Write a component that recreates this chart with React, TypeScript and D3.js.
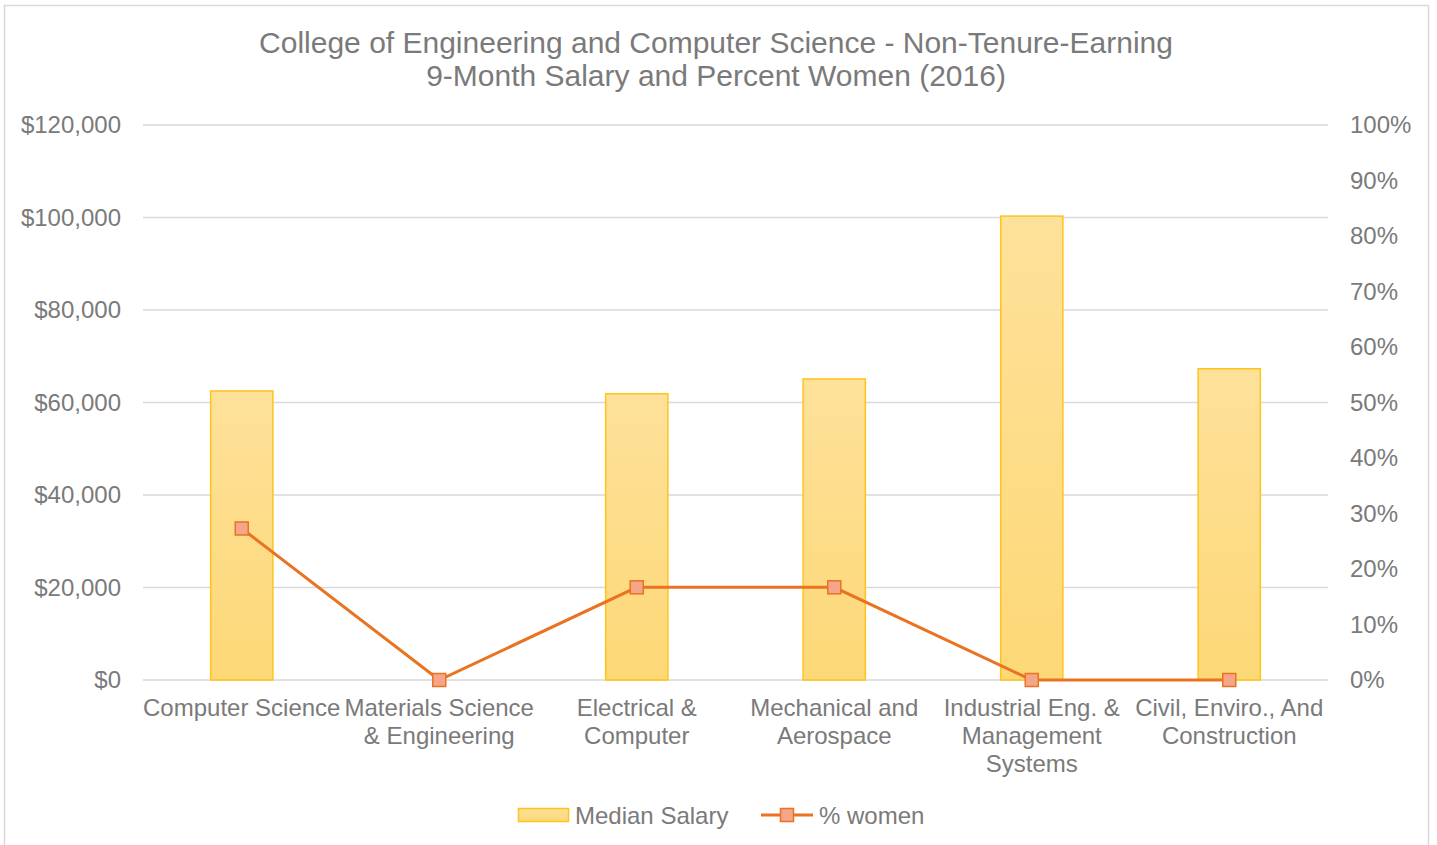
import React, { useRef, useEffect } from 'react';
import * as d3 from 'd3';

const categories = [
  ['Computer Science'],
  ['Materials Science', '& Engineering'],
  ['Electrical &', 'Computer'],
  ['Mechanical and', 'Aerospace'],
  ['Industrial Eng. &', 'Management', 'Systems'],
  ['Civil, Enviro., And', 'Construction'],
];
const medianSalary = [62500, 0, 61900, 65100, 100300, 67300];
const pctWomen = [0.273, 0, 0.167, 0.167, 0, 0];
const salaryTicks = [0, 20000, 40000, 60000, 80000, 100000, 120000];
const pctTicks = [0, 0.1, 0.2, 0.3, 0.4, 0.5, 0.6, 0.7, 0.8, 0.9, 1];
const titleLines = [
  'College of Engineering and Computer Science - Non-Tenure-Earning',
  '9-Month Salary and Percent Women (2016)',
];

const W = 1437;
const H = 845;
const FONT = '"Liberation Sans", Arial, sans-serif';
const TEXT = '#7A7A7A';
const LINE = '#E97320';
const MARKER = '#F4A58A';

const App = () => {
  const svgRef = useRef<SVGSVGElement>(null);

  useEffect(() => {
    const svg = d3.select(svgRef.current);
    svg.selectAll('*').remove();

    const margin = { top: 125, right: 109, bottom: 165, left: 143 };
    const plotW = W - margin.left - margin.right;
    const plotH = H - margin.top - margin.bottom;

    const defs = svg.append('defs');
    const grad = defs.append('linearGradient')
      .attr('id', 'barGrad')
      .attr('x1', 0).attr('y1', 0).attr('x2', 0).attr('y2', 1);
    grad.append('stop').attr('offset', '0%').attr('stop-color', '#FEE19A');
    grad.append('stop').attr('offset', '100%').attr('stop-color', '#FDD877');

    // chart border
    svg.append('rect')
      .attr('x', 4.5).attr('y', 5.5)
      .attr('width', 1424).attr('height', 860)
      .attr('fill', 'white')
      .attr('stroke', '#d9d9d9')
      .attr('stroke-width', 1.5);

    // title
    svg.append('g').selectAll('text')
      .data(titleLines)
      .join('text')
      .attr('x', 716)
      .attr('y', (d, i) => 53 + i * 33)
      .attr('text-anchor', 'middle')
      .attr('font-family', FONT)
      .attr('font-size', '30px')
      .attr('fill', TEXT)
      .text(d => d);

    const x = d3.scaleBand<number>()
      .domain(categories.map((d, i) => i))
      .range([0, plotW])
      .paddingInner(0)
      .paddingOuter(0);

    const y = d3.scaleLinear().domain([0, 120000]).range([plotH, 0]);
    const y2 = d3.scaleLinear().domain([0, 1]).range([plotH, 0]);

    const chart = svg.append('g').attr('transform', `translate(${margin.left},${margin.top})`);

    // gridlines
    chart.append('g').selectAll('line')
      .data(salaryTicks)
      .join('line')
      .attr('x1', 0).attr('x2', plotW)
      .attr('y1', d => y(d)).attr('y2', d => y(d))
      .attr('stroke', '#d9d9d9')
      .attr('stroke-width', 1.5);

    // left axis labels
    chart.append('g').selectAll('text')
      .data(salaryTicks)
      .join('text')
      .attr('x', -22)
      .attr('y', d => y(d))
      .attr('dy', '0.35em')
      .attr('text-anchor', 'end')
      .attr('font-family', FONT)
      .attr('font-size', '24px')
      .attr('fill', TEXT)
      .text(d => '$' + d3.format(',')(d));

    // right axis labels
    chart.append('g').selectAll('text')
      .data(pctTicks)
      .join('text')
      .attr('x', plotW + 22)
      .attr('y', d => y2(d))
      .attr('dy', '0.35em')
      .attr('text-anchor', 'start')
      .attr('font-family', FONT)
      .attr('font-size', '24px')
      .attr('fill', TEXT)
      .text(d => d3.format('.0%')(d));

    // bars
    const barW = x.bandwidth() * 0.315;
    chart.append('g').selectAll('rect')
      .data(medianSalary.map((v, i) => ({ v, i })).filter(d => d.v > 0))
      .join('rect')
      .attr('x', d => x(d.i)! + x.bandwidth() / 2 - barW / 2)
      .attr('y', d => y(d.v))
      .attr('width', barW)
      .attr('height', d => plotH - y(d.v))
      .attr('fill', 'url(#barGrad)')
      .attr('stroke', '#FFC31A')
      .attr('stroke-width', 1.5);

    // x labels
    const xl = chart.append('g').selectAll('text')
      .data(categories)
      .join('text')
      .attr('x', (d, i) => x(i)! + x.bandwidth() / 2)
      .attr('y', plotH + 36)
      .attr('text-anchor', 'middle')
      .attr('font-family', FONT)
      .attr('font-size', '24px')
      .attr('fill', TEXT);
    xl.selectAll('tspan')
      .data(d => d)
      .join('tspan')
      .attr('x', function () { return (this.parentNode as SVGTextElement).getAttribute('x'); })
      .attr('dy', (d, i) => (i === 0 ? 0 : 28))
      .text(d => d);

    // % women line
    const line = d3.line<number>()
      .x((d, i) => x(i)! + x.bandwidth() / 2)
      .y(d => y2(d));
    chart.append('path')
      .datum(pctWomen)
      .attr('d', line)
      .attr('fill', 'none')
      .attr('stroke', LINE)
      .attr('stroke-width', 3);

    const ms = 13;
    chart.append('g').selectAll('rect')
      .data(pctWomen)
      .join('rect')
      .attr('x', (d, i) => x(i)! + x.bandwidth() / 2 - ms / 2)
      .attr('y', d => y2(d) - ms / 2)
      .attr('width', ms).attr('height', ms)
      .attr('fill', MARKER)
      .attr('stroke', LINE)
      .attr('stroke-width', 1.5);

    // legend
    const legend = svg.append('g');
    legend.append('rect')
      .attr('x', 518.5).attr('y', 808.5)
      .attr('width', 50).attr('height', 13)
      .attr('fill', 'url(#barGrad)')
      .attr('stroke', '#FFC31A')
      .attr('stroke-width', 1.5);
    legend.append('text')
      .attr('x', 575).attr('y', 824)
      .attr('font-family', FONT).attr('font-size', '24px').attr('fill', TEXT)
      .text('Median Salary');
    legend.append('line')
      .attr('x1', 761).attr('x2', 813)
      .attr('y1', 815).attr('y2', 815)
      .attr('stroke', LINE).attr('stroke-width', 3);
    legend.append('rect')
      .attr('x', 780.5).attr('y', 808.5)
      .attr('width', ms).attr('height', ms)
      .attr('fill', MARKER)
      .attr('stroke', LINE)
      .attr('stroke-width', 1.5);
    legend.append('text')
      .attr('x', 819).attr('y', 824)
      .attr('font-family', FONT).attr('font-size', '24px').attr('fill', TEXT)
      .text('% women');
  }, []);

  return (
    <svg
      ref={svgRef}
      width={W}
      height={H}
      style={{ position: 'absolute', left: 0, top: 0, display: 'block' }}
    />
  );
};

export default App;
